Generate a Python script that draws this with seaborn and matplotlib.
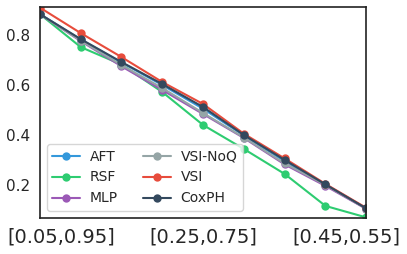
import numpy as np
import pandas as pd
import matplotlib
matplotlib.use('Agg')
import matplotlib.pyplot as plt
import seaborn as sns

intervals = ['[0.05,0.95]', '[0.10,0.90]', '[0.15,0.85]', '[0.20,0.80]', '[0.25,0.75]',
             '[0.30,0.70]', '[0.35,0.65]', '[0.40,0.60]', '[0.45,0.55]']
aft = [0.884, 0.782, 0.690, 0.600, 0.505, 0.398, 0.295, 0.200, 0.105]
rsf = [0.884, 0.752, 0.682, 0.572, 0.440, 0.344, 0.244, 0.116, 0.070]
mlp = [0.884, 0.776, 0.675, 0.580, 0.484, 0.388, 0.282, 0.196, 0.104]
vsi_noq = [0.884, 0.778, 0.680, 0.588, 0.488, 0.390, 0.286, 0.200, 0.105]
vsi = [0.910, 0.808, 0.712, 0.612, 0.524, 0.405, 0.306, 0.204, 0.108]
coxph = [0.884, 0.784, 0.692, 0.604, 0.512, 0.400, 0.300, 0.202, 0.106]

models = ['AFT', 'RSF', 'MLP', 'VSI-NoQ', 'VSI', 'CoxPH']
colors = ['#3498db', '#2ecc71', '#9b59b6', '#95a5a6', '#e74c3c', '#34495e']

# tick labels sit a bit inside the ends of the x range in the original
tick_pos = [0.52, 4, 7.5]
tick_labels = [intervals[0], intervals[4], intervals[8]]

series = [aft, rsf, mlp, vsi_noq, vsi, coxph]
df = pd.concat([pd.DataFrame({'pos': np.arange(len(intervals)), 'value': s, 'model': m})
                for m, s in zip(models, series)], ignore_index=True)

sns.set_style('white')
fig, ax = plt.subplots(figsize=(4.07, 2.54), dpi=100)
sns.lineplot(data=df, x='pos', y='value', hue='model', hue_order=models,
             palette=colors, marker='o', markersize=6, markeredgewidth=0,
             linewidth=1.5, ax=ax)

ax.set_xlim(0, 8)
ax.set_ylim(0.068, 0.912)
ax.set_xticks(tick_pos)
ax.set_xticklabels(tick_labels, fontsize=14)
ax.set_yticks([0.2, 0.4, 0.6, 0.8])
ax.tick_params(axis='y', labelsize=11)
ax.set_xlabel('')
ax.set_ylabel('')
for sp in ax.spines.values():
    sp.set_color('#222222')
    sp.set_linewidth(1.2)

ax.legend(loc='lower left', ncol=2, fontsize=10, columnspacing=1.8,
          handlelength=2.0, handletextpad=0.7, borderpad=0.4, labelspacing=0.5)

fig.subplots_adjust(left=0.098, right=0.9, top=0.972, bottom=0.142)
fig.savefig('out.png', dpi=100)
